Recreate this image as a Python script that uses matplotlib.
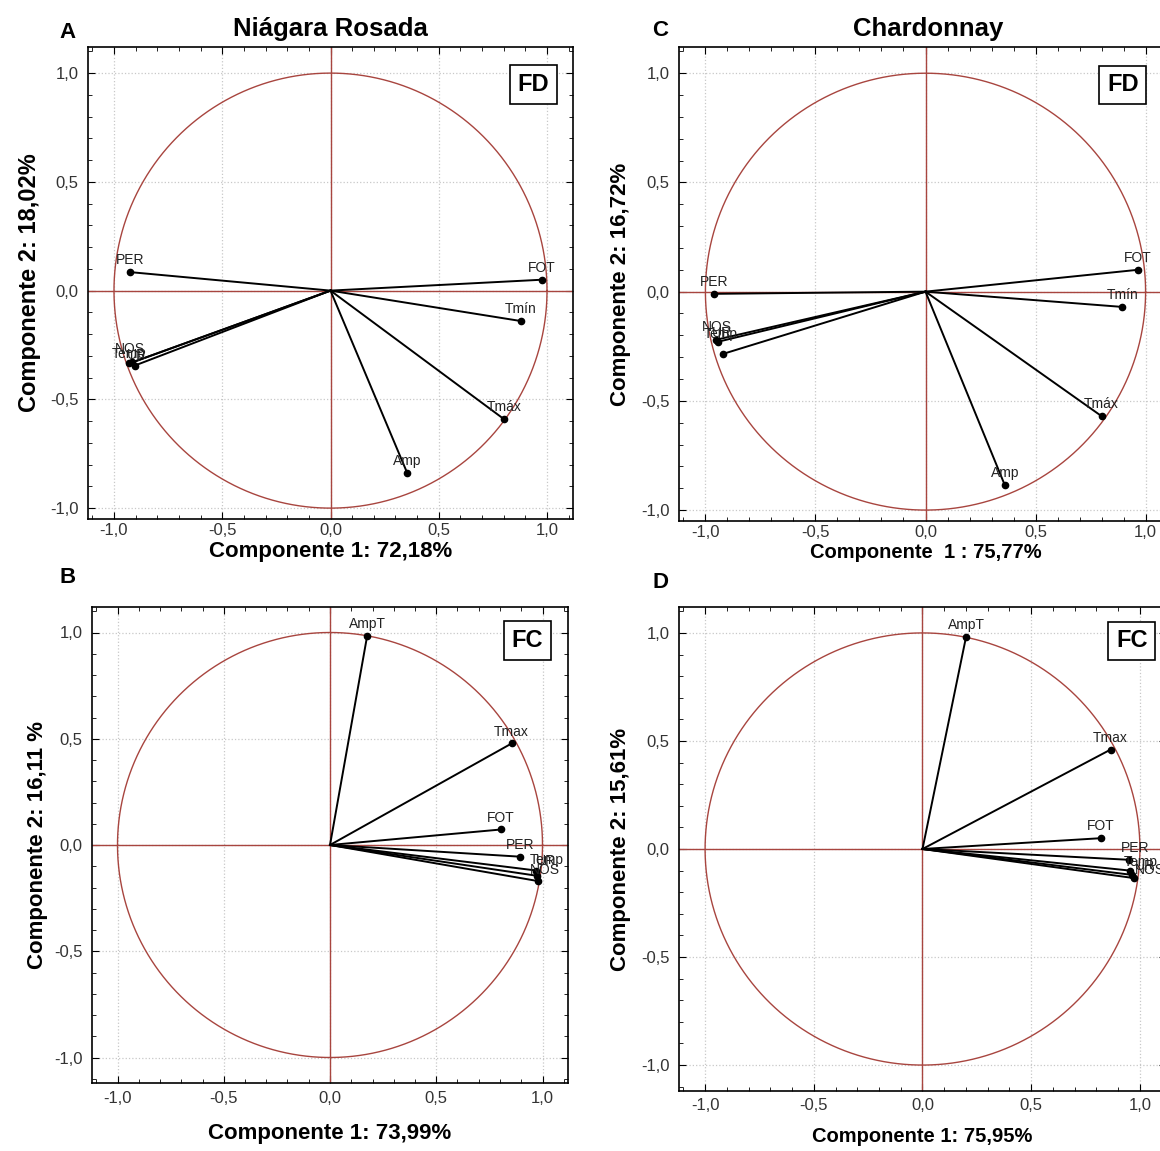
import numpy as np
import matplotlib
matplotlib.use("Agg")
import matplotlib.pyplot as plt
from matplotlib.ticker import MultipleLocator, FuncFormatter

plt.rcParams['font.family'] = ['Liberation Sans', 'DejaVu Sans']

W, H = 1160, 1151

# ---- data (loadings) ----
a_names = ["PER", "FOT", "Tmín", "Tmáx", "Amp", "NOS", "UR", "Temp"]
a_x = [-0.925, 0.975, 0.88, 0.80, 0.355, -0.915, -0.905, -0.93]
a_y = [0.085, 0.05, -0.14, -0.59, -0.84, -0.33, -0.345, -0.335]

b_names = ["AmpT", "Tmax", "FOT", "PER", "Temp", "UR", "NOS"]
b_x = [0.175, 0.855, 0.805, 0.895, 0.97, 0.975, 0.98]
b_y = [0.985, 0.478, 0.073, -0.055, -0.12, -0.145, -0.17]

c_names = ["PER", "FOT", "Tmín", "Tmáx", "Amp", "NOS", "UR", "Temp"]
c_x = [-0.96, 0.965, 0.895, 0.80, 0.36, -0.95, -0.945, -0.92]
c_y = [-0.01, 0.10, -0.07, -0.57, -0.885, -0.22, -0.23, -0.285]

d_names = ["AmpT", "Tmax", "FOT", "PER", "Temp", "UR", "NOS"]
d_x = [0.20, 0.865, 0.82, 0.95, 0.955, 0.965, 0.975]
d_y = [0.98, 0.46, 0.05, -0.05, -0.10, -0.12, -0.135]

RED = '#a8453f'


def px_axes(fig, left, top, right, bottom):
    return fig.add_axes([left / W, 1 - bottom / H, (right - left) / W, (bottom - top) / H])


def comma(v, pos):
    return f"{v:.1f}".replace(".", ",")


def panel(ax, names, xs, ys, xlabel, ylabel, tag, tagpos, ylim, labs, offsets=None):
    # labs: (xlabel size, xlabel pad, ylabel size, ylabel pad, xtick pad)
    xs_, xp, ys_, yp, tp = labs
    ax.set_xlim(-1.12, 1.12)
    ax.set_ylim(*ylim)
    t = np.linspace(0, 2 * np.pi, 400)
    ax.plot(np.cos(t), np.sin(t), color=RED, lw=1.0, zorder=2)
    ax.axhline(0, color=RED, lw=1.0, zorder=2)
    ax.axvline(0, color=RED, lw=1.0, zorder=2)
    for n, x, y in zip(names, xs, ys):
        ax.plot([0, x], [0, y], color='black', lw=1.4, zorder=3)
        ax.plot(x, y, 'o', color='black', ms=4.5, zorder=4)
        dx, dy = (0, 0.055)
        if offsets and n in offsets:
            dx, dy = offsets[n]
        ax.text(x + dx, y + dy, n, ha='center', va='center', fontsize=10,
                color='#222222', zorder=5)
    ax.xaxis.set_major_locator(MultipleLocator(0.5))
    ax.yaxis.set_major_locator(MultipleLocator(0.5))
    ax.xaxis.set_minor_locator(MultipleLocator(0.1))
    ax.yaxis.set_minor_locator(MultipleLocator(0.1))
    ax.xaxis.set_major_formatter(FuncFormatter(comma))
    ax.yaxis.set_major_formatter(FuncFormatter(comma))
    ax.tick_params(which='both', direction='in', top=True, right=True,
                   labelsize=12, labelcolor='#333333')
    ax.tick_params(which='major', length=5)
    ax.tick_params(which='minor', length=3)
    ax.tick_params(axis='y', pad=7)
    ax.tick_params(axis='x', pad=tp)
    ax.grid(True, which='major', color='#c8c8c8', ls=':', lw=0.9, zorder=0)
    for s in ax.spines.values():
        s.set_linewidth(1.2)
    ax.set_xlabel(xlabel, fontsize=xs_, fontweight='bold', labelpad=xp)
    ax.set_ylabel(ylabel, fontsize=ys_, fontweight='bold', labelpad=yp)
    ax.text(tagpos[0], tagpos[1], tag, transform=ax.transAxes, ha='center', va='center',
            fontsize=17, fontweight='bold', zorder=6,
            bbox=dict(boxstyle='square,pad=0.33', fc='white', ec='black', lw=1.2))


fig = plt.figure(figsize=(W / 100, H / 100), dpi=100)

axA = px_axes(fig, 88, 47, 573, 519)
panel(axA, a_names, a_x, a_y, "Componente 1: 72,18%", "Componente 2: 18,02%", "FD",
      (0.918, 0.92), (-1.05, 1.12), (16, 2, 17, 6, 3),
      offsets={"NOS": (-0.01, 0.06), "UR": (0.01, 0.05), "Temp": (0.0, 0.045)})
axB = px_axes(fig, 92, 607, 568, 1083)
panel(axB, b_names, b_x, b_y, "Componente 1: 73,99%", "Componente 2: 16,11 %", "FC",
      (0.914, 0.93), (-1.12, 1.12), (16, 12, 16, 4, 6),
      offsets={"Temp": (0.05, 0.05), "UR": (0.04, 0.07), "NOS": (0.03, 0.05)})
axC = px_axes(fig, 679, 47, 1172, 521)
panel(axC, c_names, c_x, c_y, "Componente  1 : 75,77%", "Componente 2: 16,72%", "FD",
      (0.90, 0.92), (-1.05, 1.12), (14.5, 2, 16, 7, 3),
      offsets={"NOS": (0.0, 0.06), "UR": (0.02, 0.04), "Temp": (-0.01, 0.09)})
axD = px_axes(fig, 679, 607, 1166, 1091)
panel(axD, d_names, d_x, d_y, "Componente 1: 75,95%", "Componente 2: 15,61%", "FC",
      (0.93, 0.93), (-1.12, 1.12), (14.5, 10, 16, 7, 5),
      offsets={"PER": (0.03, 0.055), "Temp": (0.05, 0.04), "UR": (0.06, 0.04), "NOS": (0.07, 0.04)})

fig.text(330 / W, 1 - 29 / H, "Niágara Rosada", ha='center', va='center', fontsize=18.5, fontweight='bold')
fig.text(928 / W, 1 - 29 / H, "Chardonnay", ha='center', va='center', fontsize=18.5, fontweight='bold')
for lab, x, y in [("A", 68, 33), ("B", 68, 578), ("C", 660, 31), ("D", 660, 582)]:
    fig.text(x / W, 1 - y / H, lab, ha='center', va='center', fontsize=16, fontweight='bold')

fig.savefig("out.png", dpi=100, facecolor='white')
